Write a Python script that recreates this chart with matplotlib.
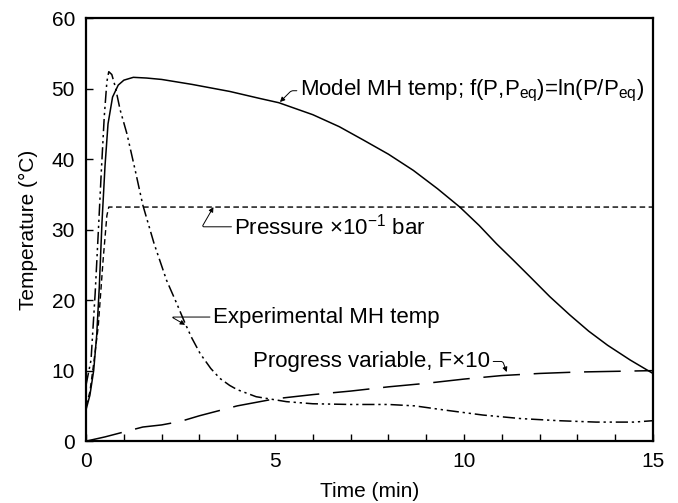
import matplotlib.pyplot as plt
from matplotlib.ticker import MultipleLocator

plt.rcParams['font.family'] = ['Liberation Sans', 'DejaVu Sans']
plt.rcParams['mathtext.fontset'] = 'custom'
plt.rcParams['mathtext.rm'] = 'Liberation Sans'
plt.rcParams['mathtext.it'] = 'Liberation Sans'

# model MH temperature (solid)
t_model = [0, 0.1, 0.2, 0.28, 0.35, 0.42, 0.5, 0.58, 0.7, 0.85, 1.0, 1.25, 1.6, 2.0,
           2.8, 3.8, 4.6, 5.1, 6.0, 6.7, 7.34, 8.0, 8.66, 9.3, 9.89, 10.4, 10.86,
           11.3, 11.75, 12.27, 12.8, 13.3, 13.8, 14.4, 15]
T_model = [4.5, 6.5, 10, 15, 22, 31, 39, 45, 48.8, 50.5, 51.2, 51.6, 51.5, 51.3,
           50.6, 49.6, 48.6, 48.0, 46.3, 44.6, 42.7, 40.7, 38.4, 35.8, 33.2, 30.6, 28.0,
           25.7, 23.3, 20.5, 17.9, 15.6, 13.6, 11.5, 9.6]

# experimental MH temperature (dash-dot-dot)
t_exp = [0, 0.13, 0.24, 0.33, 0.4, 0.48, 0.55, 0.6, 0.68, 0.77, 0.9, 1.08, 1.3, 1.5,
         1.8, 2.13, 2.4, 2.62, 2.8, 3.02, 3.3, 3.54, 3.8, 4.0, 4.5, 5.3, 6.0, 7.0,
         8.0, 8.7, 9.5, 10.5, 11.5, 12.5, 13.5, 14.5, 15]
T_exp = [8, 11.5, 21, 30.4, 38, 46, 51, 52.4, 52, 50.3, 47, 43.6, 38.4, 33.5,
         28.0, 22.8, 19.5, 16.7, 14.6, 12.4, 10.3, 8.9, 7.9, 7.3, 6.3, 5.6, 5.3, 5.2,
         5.2, 5.0, 4.4, 3.7, 3.2, 2.9, 2.7, 2.7, 2.9]

# pressure x 1e-1 bar (short dashes)
t_pres = [0, 0.1, 0.2, 0.32, 0.45, 0.55, 0.6, 15]
P_pres = [5, 7, 11, 16.2, 25.7, 32, 33.2, 33.2]

# progress variable F x 10 (long dashes)
t_prog = [0, 0.5, 1.0, 1.5, 2.0, 2.5, 3.0, 3.5, 4.0, 4.5, 5.0, 5.5, 6.0, 7.0, 8.0,
          9.0, 10.0, 11.0, 12.0, 13.0, 14.0, 15.0]
F_prog = [0, 0.6, 1.3, 2.0, 2.3, 2.8, 3.6, 4.3, 5.0, 5.5, 6.0, 6.3, 6.6, 7.1, 7.7,
          8.2, 8.8, 9.3, 9.6, 9.8, 9.9, 10.0]

fig = plt.figure(figsize=(6.78, 5.03), dpi=100)
ax = fig.add_axes([0.127, 0.123, 0.836, 0.841])

ax.plot(t_model, T_model, color='black', lw=1.1)
ax.plot(t_exp, T_exp, color='black', lw=1.1, dashes=(8, 2.5, 1.5, 2.5, 1.5, 2.5))
ax.plot(t_pres, P_pres, color='black', lw=1.0, dashes=(4, 2.5))
ax.plot(t_prog, F_prog, color='black', lw=1.1, dashes=(24, 9))

ax.set_xlim(0, 15)
ax.set_ylim(0, 60)
ax.xaxis.set_major_locator(MultipleLocator(5))
ax.xaxis.set_minor_locator(MultipleLocator(1))
ax.yaxis.set_major_locator(MultipleLocator(10))
ax.tick_params(direction='in', labelsize=15, length=5, width=1, pad=8)
ax.tick_params(which='minor', direction='in', length=5, width=1)
for s in ax.spines.values():
    s.set_linewidth(1.6)

ax.set_xlabel('Time (min)', fontsize=15, labelpad=8)
ax.set_ylabel('Temperature (°C)', fontsize=15, labelpad=10)

arw = dict(arrowstyle='-|>', color='black', lw=0.7, mutation_scale=7, shrinkA=0, shrinkB=0)

ax.annotate('Model MH temp; f(P,P$_{\\mathrm{eq}}$)=ln(P/P$_{\\mathrm{eq}}$)',
            xy=(5.13, 48.1), xytext=(5.65, 49.7), fontsize=16, va='center', ha='left',
            arrowprops=dict(arw, connectionstyle='angle,angleA=0,angleB=45,rad=2'))
ax.annotate('Pressure ×10$^{-1}$ bar', xy=(3.37, 33.2), xytext=(3.92, 30.4),
            fontsize=16, va='center', ha='left',
            arrowprops=dict(arw, connectionstyle='angle,angleA=0,angleB=60,rad=2'))
ax.annotate('Experimental MH temp', xy=(2.62, 16.5), xytext=(3.35, 17.6),
            fontsize=16, va='center', ha='left',
            arrowprops=dict(arw, connectionstyle='angle,angleA=0,angleB=150,rad=2'))
ax.annotate('Progress variable, F×10', xy=(11.13, 9.8), xytext=(10.7, 11.3),
            fontsize=16, va='center', ha='right',
            arrowprops=dict(arw, connectionstyle='angle,angleA=0,angleB=-70,rad=2'))

fig.savefig('out.png', dpi=100)
